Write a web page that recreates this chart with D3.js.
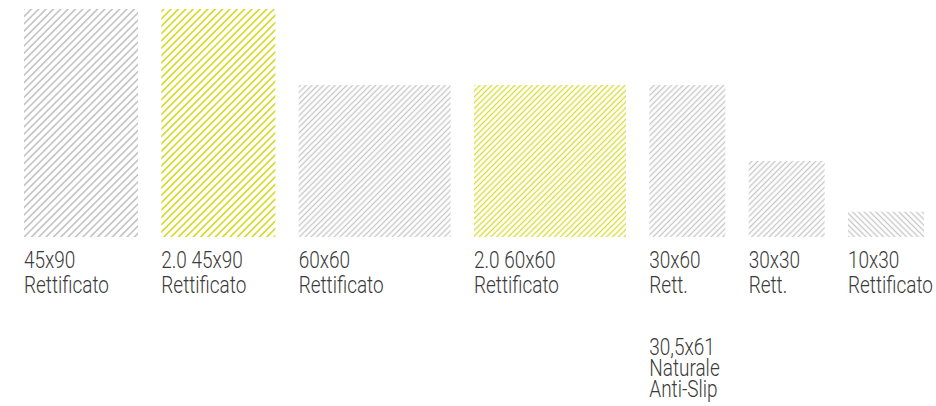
<!DOCTYPE html>
<html>
<head>
<meta charset="utf-8">
<script src="https://cdn.jsdelivr.net/npm/d3@7"></script>
<style>
  html, body { margin: 0; padding: 0; background: #ffffff; }
  svg { display: block; }
</style>
</head>
<body>
<svg id="chart" width="936" height="406"></svg>
<script>
// ---- data ----
const categories = ["45x90", "2.0 45x90", "60x60", "2.0 60x60", "30x60", "30x30", "10x30"];
const subLabels  = ["Rettificato", "Rettificato", "Rettificato", "Rettificato", "Rett.", "Rett.", "Rettificato"];
const tileWidth  = [45, 45, 60, 60, 30, 30, 30];   // cm (drawn horizontally)
const tileHeight = [90, 90, 60, 60, 60, 30, 10];   // cm (drawn vertically)
const highlight  = [false, true, false, true, false, false, false];
const extraLabel = { "30x60": ["30,5x61", "Naturale", "Anti-Slip"] };

// ---- layout / style ----
const left = 24, right = 924, baseY = 237;
const gray = "#c6c6c6", yellow = "#d8db30", textCol = "#3a3a3a";

const svg = d3.select("#chart");
const hScale = d3.scaleLinear().domain([0, 90]).range([0, 228]);
const wScale = d3.scaleLinear().domain([0, 45]).range([0, 114]);

const totalW = d3.sum(tileWidth, d => wScale(d));
const gap = (right - left - totalW) / (categories.length - 1);
const xs = [];
let acc = left;
tileWidth.forEach((w) => { xs.push(acc); acc += wScale(w) + gap; });

const data = categories.map((c, i) => ({
  name: c, sub: subLabels[i], w: tileWidth[i], h: tileHeight[i],
  hl: highlight[i], x: xs[i], i
}));

// hatch patterns
const defs = svg.append("defs");
data.forEach(d => {
  const big = d.h === 90;
  const sp = big ? 5.2 : 4.1;
  const sw = big ? 1.7 : 1.3;
  const ang = d.h < d.w ? -45 : 45;
  const p = defs.append("pattern")
    .attr("id", "hatch" + d.i)
    .attr("patternUnits", "userSpaceOnUse")
    .attr("width", sp).attr("height", sp)
    .attr("patternTransform", `rotate(${ang})`);
  p.append("line")
    .attr("x1", sp / 2).attr("y1", 0).attr("x2", sp / 2).attr("y2", sp)
    .attr("stroke", d.hl ? yellow : gray)
    .attr("stroke-width", sw);
});

const g = svg.append("g");
g.selectAll("rect.tile").data(data).join("rect")
  .attr("class", "tile")
  .attr("x", d => d.x)
  .attr("y", d => baseY - hScale(d.h))
  .attr("width", d => wScale(d.w))
  .attr("height", d => hScale(d.h))
  .attr("fill", d => `url(#hatch${d.i})`);

const font = "Roboto, 'Liberation Sans', sans-serif";
const squeeze = 0.79;

function label(x, y, lines, lh) {
  const t = g.append("g")
    .attr("transform", `translate(${x},${y}) scale(${squeeze},1)`)
    .append("text")
    .attr("font-family", font)
    .attr("font-weight", 300)
    .attr("font-size", 24)
    .attr("fill", textCol);
  lines.forEach((line, k) => {
    t.append("tspan").attr("x", 0).attr("y", k * lh).text(line);
  });
}

data.forEach(d => label(d.x, baseY + 31, [d.name, d.sub], 25));
data.filter(d => extraLabel[d.name]).forEach(d => {
  label(d.x, baseY + 118, extraLabel[d.name], 21);
});
</script>
</body>
</html>
